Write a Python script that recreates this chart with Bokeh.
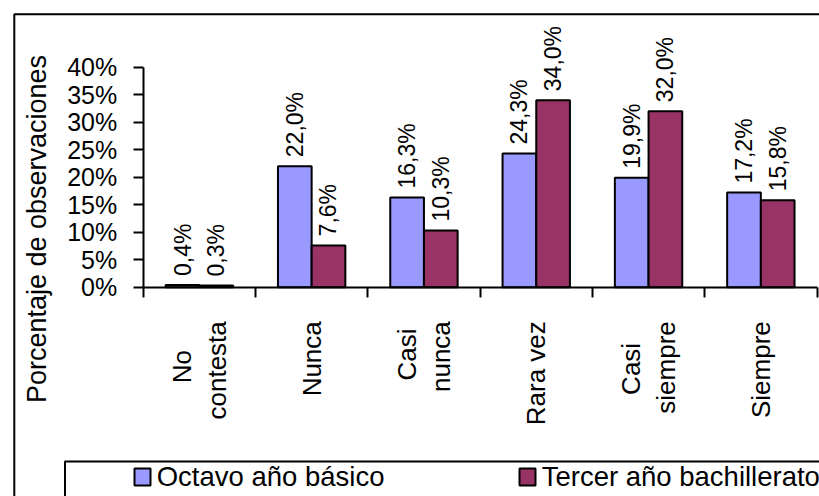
import math
from bokeh.plotting import figure
from bokeh.models import (Range1d, FixedTicker, BoxAnnotation, Legend, LegendItem,
                          ColumnDataSource, Label)
from bokeh.core.properties import value
from bokeh.embed import file_html
from bokeh.resources import INLINE

# ---- data ----
NB = "\u00a0"
categories = ["No" + NB * 4 + "\ncontesta", "Nunca", "Casi" + NB + "\nnunca", "Rara vez",
              "Casi" + NB * 3 + "\nsiempre", "Siempre"]
octavo = [0.4, 22.0, 16.3, 24.3, 19.9, 17.2]
tercero = [0.3, 7.6, 10.3, 34.0, 32.0, 15.8]
series_names = ["Octavo año básico", "Tercer año bachillerato"]
series_colors = ["#9999FF", "#993366"]
y_ticks = [0, 5, 10, 15, 20, 25, 30, 35, 40]
y_tick_labels = ["0%", "5%", "10%", "15%", "20%", "25%", "30%", "35%", "40%"]
y_title = "Porcentaje de observaciones"

FONT = "Liberation Sans"
W, H = 819, 496
# layout: the frame covers the whole canvas; axes are pinned at 0
X0_PX, CAT_PX = 142.7, 112.3     # pixel of x=0, pixels per category
Y0_PX, UNIT_PX = 286.7, 5.5      # pixel of y=0, pixels per percent

def xd(px):
    return (px - X0_PX) / CAT_PX

def yd(py):
    return (Y0_PX - py) / UNIT_PX

n = len(categories)
centers = [i + 0.5 for i in range(n)]
bw = 0.3

def fmt(v):
    return f"{v:.1f}".replace(".", ",") + "%"

p = figure(width=W, height=H, x_range=Range1d(xd(0), xd(W)), y_range=Range1d(yd(H), yd(0)),
           output_backend="svg", toolbar_location=None,
           min_border_left=0, min_border_top=0, min_border_right=0, min_border_bottom=0)
p.title.visible = False
p.xgrid.visible = False
p.ygrid.visible = False
p.outline_line_color = None
p.background_fill_color = "white"
p.border_fill_color = "white"

renderers = []
for k, (vals, col) in enumerate(zip([octavo, tercero], series_colors)):
    xs = [c + (k - 0.5) * bw for c in centers]
    src = ColumnDataSource(dict(x=xs, top=vals, lab=[fmt(v) for v in vals]))
    r = p.vbar(x="x", top="top", bottom=0, width=bw, source=src,
               fill_color=col, line_color="black", line_width=2)
    renderers.append(r)
    p.text(x="x", y="top", text="lab", source=src, angle=math.pi / 2,
           text_align="left", text_baseline="middle", y_offset=-9,
           text_font=value(FONT), text_font_size=value("23px"), text_color="black")

# x axis: labels at centers, ticks at boundaries (minor ticks)
xa = p.xaxis[0]
xa.fixed_location = 0
xa.bounds = (0, n)
xa.ticker = FixedTicker(ticks=centers, minor_ticks=list(range(n + 1)))
xa.major_label_overrides = {c: lab for c, lab in zip(centers, categories)}
xa.major_tick_out = 0
xa.major_tick_in = 0
xa.minor_tick_out = 10
xa.minor_tick_in = 0
xa.minor_tick_line_width = 2
xa.minor_tick_line_color = "black"
xa.axis_line_width = 2
xa.axis_line_color = "black"
xa.major_label_orientation = math.pi / 2
xa.major_label_standoff = 24
xa.major_label_text_font = FONT
xa.major_label_text_font_size = "26px"
xa.major_label_text_color = "black"
xa.major_label_text_line_height = 1.15

# y axis
ya = p.yaxis[0]
ya.fixed_location = 0
ya.bounds = (0, 40)
ya.ticker = FixedTicker(ticks=y_ticks, minor_ticks=[])
ya.major_label_overrides = {t: l for t, l in zip(y_ticks, y_tick_labels)}
ya.major_tick_out = 10
ya.major_tick_in = 0
ya.major_tick_line_width = 2
ya.axis_line_width = 2
ya.axis_line_color = "black"
ya.major_label_standoff = 16
ya.major_label_text_font = FONT
ya.major_label_text_font_size = "25px"
ya.major_label_text_color = "black"

# y-axis title
p.add_layout(Label(x=xd(36), y=yd(228.5), text=y_title, angle=math.pi / 2,
                   text_align="center", text_baseline="middle",
                   text_font=FONT, text_font_size="27px", text_color="black"))

# outer chart border and legend border (cut off by the window edges)
p.add_layout(BoxAnnotation(left=xd(13.8), top=yd(13.8), right=xd(W + 50), bottom=yd(H + 50),
                           fill_alpha=0, line_color="black", line_width=2, line_alpha=1))
p.add_layout(BoxAnnotation(left=xd(64.5), top=yd(461), right=xd(W + 50), bottom=yd(H + 50),
                           fill_alpha=0, line_color="black", line_width=2, line_alpha=1))

legend = Legend(items=[LegendItem(label=s, renderers=[r]) for s, r in zip(series_names, renderers)],
                orientation="horizontal", location=(131.7, H - 471.7 - 21),
                border_line_color=None, background_fill_alpha=0,
                padding=0, margin=0, spacing=0,
                glyph_width=20, glyph_height=21, label_height=21,
                label_standoff=5, label_width=360,
                label_text_font=FONT, label_text_font_size="27.5px", label_text_color="black")
p.add_layout(legend, "center")

open("out.html", "w").write(file_html(p, INLINE))
